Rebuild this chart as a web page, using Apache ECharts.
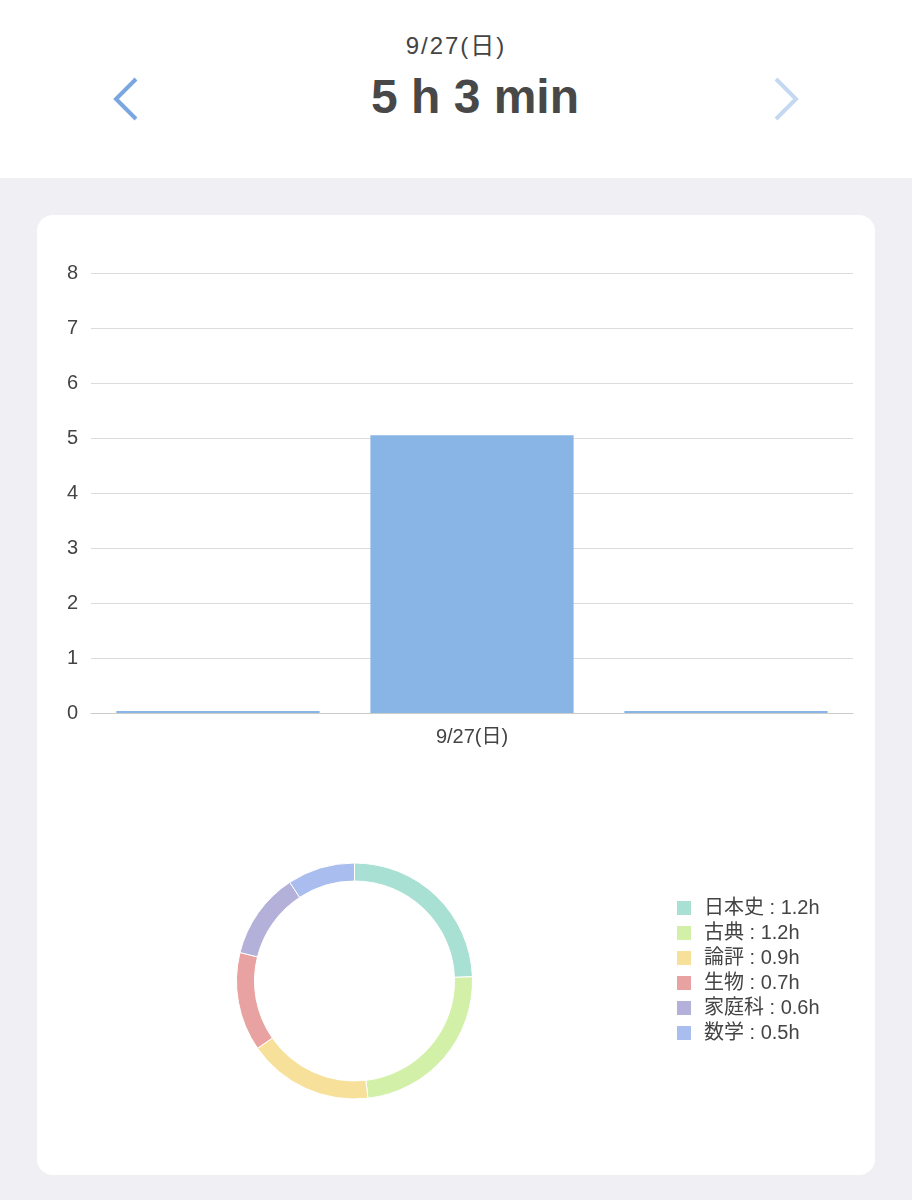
<!DOCTYPE html>
<html>
<head>
<meta charset="utf-8">
<script src="https://cdn.jsdelivr.net/npm/echarts@6/dist/echarts.min.js"></script>
<style>
  html, body { margin:0; padding:0; width:912px; height:1200px; background:#efeff4; overflow:hidden;
    font-family:"Liberation Sans","Noto Sans CJK JP",sans-serif; }
  #header { position:absolute; left:0; top:0; width:912px; height:178px; background:#ffffff; }
  #date { position:absolute; left:0; width:912px; top:26px; text-align:center; font-size:24px; letter-spacing:2px; color:#444; }
  #total { position:absolute; left:0; width:950px; top:69px; text-align:center; font-size:48px; font-weight:bold; color:#484848; }
  #card { position:absolute; left:37px; top:215px; width:838px; height:960px; background:#fff; border-radius:16px; }
  #chart { position:absolute; left:0; top:0; width:838px; height:960px; }
  svg.arrow { position:absolute; top:76px; }
</style>
</head>
<body>
<div id="header">
  <div id="date">9/27(日)</div>
  <div id="total">5 h 3 min</div>
  <svg class="arrow" style="left:108px" width="34" height="46"><polyline points="28,3 8,23 28,43" fill="none" stroke="#7aa7e0" stroke-width="4"/></svg>
  <svg class="arrow" style="left:770px" width="34" height="46"><polyline points="6,3 26,23 6,43" fill="none" stroke="#c5d8f2" stroke-width="4"/></svg>
</div>
<div id="card"><div id="chart"></div></div>
<script>
// Bar chart data (hours per day)
var dayLabels = ['', '9/27(日)', ''];
var dayHours = [0, 5.05, 0];
var yTicks = [0, 1, 2, 3, 4, 5, 6, 7, 8];

// Subject breakdown (minutes)
var subjects = ['日本史', '古典', '論評', '生物', '家庭科', '数学'];
var subjectMinutes = [74, 72, 52, 41, 36, 28];
var subjectColors = ['#a8e0d3', '#d3f0a9', '#f7e09a', '#e8a2a2', '#b3b0da', '#a9bdee'];

var font = '"Liberation Sans","Noto Sans CJK JP",sans-serif';
var pieData = subjects.map(function (s, i) {
  return { name: s, value: subjectMinutes[i] / 60, itemStyle: { color: subjectColors[i] } };
});

var chart = echarts.init(document.getElementById('chart'), null, { renderer: 'canvas' });
chart.setOption({
  animation: false,
  textStyle: { fontFamily: font },
  grid: { left: 54, right: 22, top: 58, height: 440 },
  xAxis: {
    type: 'category', data: dayLabels,
    axisLine: { lineStyle: { color: '#cccccc' } },
    axisTick: { show: false },
    axisLabel: { fontSize: 20, color: '#444', margin: 14, fontFamily: font }
  },
  yAxis: {
    type: 'value', min: yTicks[0], max: yTicks[yTicks.length - 1], interval: 1,
    axisLine: { show: false }, axisTick: { show: false },
    splitLine: { lineStyle: { color: '#dcdcdc' } },
    axisLabel: { fontSize: 20, color: '#444', margin: 13, fontFamily: font }
  },
  legend: {
    orient: 'vertical', left: 638, top: 683, padding: 0,
    itemWidth: 16, itemHeight: 16, itemGap: 5, icon: 'rect',
    textStyle: { fontSize: 20, color: '#444', fontFamily: font, padding: [0, 0, 0, 7] },
    formatter: function (name) {
      var i = subjects.indexOf(name);
      return name + ' : ' + (subjectMinutes[i] / 60).toFixed(1) + 'h';
    },
    data: subjects
  },
  series: [
    {
      type: 'bar', data: dayHours, barWidth: '80%', barMinHeight: 2,
      itemStyle: { color: '#88b4e6' }
    },
    {
      type: 'pie', center: [317.5, 766], radius: [100, 118],
      startAngle: 90, clockwise: true,
      label: { show: false }, labelLine: { show: false },
      itemStyle: { borderColor: '#fff', borderWidth: 1 },
      data: pieData
    }
  ]
});
</script>
</body>
</html>
